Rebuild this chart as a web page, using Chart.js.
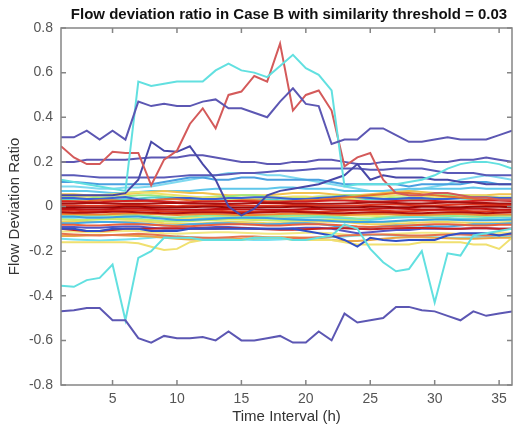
<!DOCTYPE html>
<html>
<head>
<meta charset="utf-8">
<script src="https://cdn.jsdelivr.net/npm/chart.js@4.4.1/dist/chart.umd.min.js"></script>
<style>
  html, body { margin: 0; padding: 0; background: #fff; }
  #wrap { width: 513px; height: 428px; position: relative; }
</style>
</head>
<body>
<div id="wrap"><canvas id="flowChart"></canvas></div>
<script>
const titleText = "Flow deviation ratio in Case B with similarity threshold = 0.03";
const hours = [1,2,3,4,5,6,7,8,9,10,11,12,13,14,15,16,17,18,19,20,21,22,23,24,25,26,27,28,29,30,31,32,33,34,35,36];
const xTicks = [5, 10, 15, 20, 25, 30, 35];
const yTicks = [-0.8, -0.6, -0.4, -0.2, 0, 0.2, 0.4, 0.6, 0.8];
const yTickLabels = ["-0.8", "-0.6", "-0.4", "-0.2", "0", "0.2", "0.4", "0.6", "0.8"];

// the few sensors that stand out
const purpleTop = [0.31,0.31,0.34,0.30,0.34,0.30,0.47,0.45,0.46,0.45,0.45,0.47,0.48,0.44,0.44,0.42,0.40,0.47,0.53,0.46,0.45,0.28,0.30,0.30,0.35,0.35,0.32,0.29,0.29,0.30,0.31,0.30,0.30,0.30,0.32,0.34];
const cyanHigh = [0.12,0.11,0.10,0.09,0.08,0.07,0.56,0.54,0.55,0.56,0.56,0.56,0.61,0.64,0.61,0.60,0.58,0.63,0.68,0.62,0.59,0.52,0.09,0.10,0.10,0.10,0.10,0.11,0.12,0.14,0.17,0.19,0.20,0.20,0.19,0.17];
const redPeak = [0.27,0.22,0.19,0.19,0.245,0.24,0.24,0.095,0.21,0.25,0.37,0.44,0.35,0.50,0.515,0.585,0.56,0.73,0.43,0.50,0.52,0.43,0.18,0.22,0.24,0.12,0.06,0.05,0.05,0.06,0.06,0.05,0.04,0.04,0.03,0.03];
const navySpike = [0.05,0.05,0.05,0.05,0.05,0.06,0.12,0.29,0.25,0.245,0.27,0.19,0.12,0.0,-0.04,-0.01,0.05,0.07,0.08,0.09,0.10,0.12,0.14,0.19,0.12,0.14,0.13,0.13,0.13,0.12,0.12,0.11,0.11,0.10,0.10,0.10];
const purple020 = [0.20,0.20,0.21,0.21,0.21,0.21,0.215,0.22,0.22,0.22,0.23,0.23,0.22,0.21,0.20,0.20,0.19,0.19,0.20,0.20,0.21,0.21,0.20,0.19,0.19,0.20,0.20,0.21,0.21,0.20,0.20,0.21,0.21,0.22,0.21,0.20];
const blue013 = [0.14,0.14,0.135,0.13,0.13,0.13,0.13,0.13,0.13,0.135,0.14,0.14,0.14,0.145,0.15,0.15,0.155,0.16,0.16,0.165,0.17,0.17,0.17,0.17,0.165,0.165,0.17,0.17,0.17,0.16,0.15,0.15,0.15,0.14,0.14,0.14];
const lightBlue011 = [0.11,0.11,0.105,0.10,0.10,0.10,0.10,0.10,0.11,0.12,0.13,0.13,0.12,0.12,0.13,0.13,0.12,0.12,0.12,0.12,0.12,0.11,0.10,0.10,0.10,0.10,0.10,0.09,0.10,0.10,0.10,0.10,0.11,0.11,0.10,0.10];
const cyanLow = [-0.355,-0.36,-0.33,-0.32,-0.26,-0.51,-0.23,-0.20,-0.14,-0.14,-0.14,-0.15,-0.15,-0.15,-0.15,-0.14,-0.14,-0.14,-0.15,-0.15,-0.14,-0.13,-0.08,-0.10,-0.19,-0.25,-0.29,-0.28,-0.20,-0.43,-0.21,-0.22,-0.13,-0.12,-0.11,-0.10];
const purpleLow = [-0.47,-0.465,-0.455,-0.455,-0.51,-0.51,-0.59,-0.61,-0.58,-0.59,-0.59,-0.585,-0.60,-0.56,-0.60,-0.60,-0.59,-0.58,-0.61,-0.61,-0.56,-0.60,-0.48,-0.52,-0.51,-0.50,-0.45,-0.45,-0.465,-0.47,-0.49,-0.51,-0.47,-0.49,-0.48,-0.47];
const yellowDip = [-0.16,-0.16,-0.16,-0.16,-0.16,-0.16,-0.165,-0.18,-0.195,-0.19,-0.16,-0.15,-0.15,-0.15,-0.15,-0.14,-0.14,-0.14,-0.15,-0.15,-0.15,-0.15,-0.16,-0.17,-0.17,-0.17,-0.17,-0.17,-0.16,-0.16,-0.16,-0.16,-0.17,-0.17,-0.19,-0.14];
const blueLow = [-0.10,-0.10,-0.11,-0.11,-0.10,-0.10,-0.10,-0.11,-0.11,-0.11,-0.10,-0.10,-0.10,-0.10,-0.10,-0.10,-0.10,-0.10,-0.10,-0.11,-0.12,-0.13,-0.15,-0.18,-0.14,-0.15,-0.155,-0.15,-0.15,-0.15,-0.13,-0.12,-0.12,-0.12,-0.13,-0.12];

// the dense bundle around zero
const b01 = [0.09,0.09,0.085,0.08,0.08,0.085,0.085,0.09,0.10,0.11,0.12,0.13,0.14,0.15,0.15,0.15,0.14,0.14,0.13,0.12,0.11,0.10,0.09,0.08,0.07,0.07,0.065,0.07,0.08,0.09,0.10,0.12,0.13,0.14,0.13,0.12];
const b02 = [0.07,0.07,0.07,0.065,0.06,0.06,0.065,0.07,0.07,0.07,0.07,0.075,0.08,0.08,0.08,0.08,0.08,0.085,0.085,0.08,0.08,0.08,0.07,0.07,0.07,0.07,0.075,0.08,0.08,0.08,0.08,0.08,0.085,0.08,0.08,0.08];
const b03 = [0.055,0.055,0.05,0.05,0.05,0.055,0.06,0.065,0.07,0.065,0.06,0.06,0.055,0.05,0.05,0.05,0.05,0.055,0.06,0.06,0.06,0.055,0.05,0.05,0.055,0.06,0.065,0.07,0.065,0.06,0.055,0.05,0.05,0.05,0.055,0.055];
const b04 = [0.045,0.045,0.045,0.04,0.04,0.045,0.05,0.05,0.045,0.04,0.04,0.04,0.045,0.045,0.05,0.05,0.045,0.04,0.04,0.04,0.045,0.045,0.05,0.05,0.045,0.045,0.04,0.04,0.045,0.05,0.05,0.05,0.045,0.045,0.04,0.04];
const b05 = [0.038,0.038,0.034,0.034,0.038,0.042,0.032,0.028,0.032,0.038,0.038,0.034,0.034,0.038,0.038,0.042,0.042,0.038,0.034,0.034,0.038,0.042,0.046,0.042,0.038,0.034,0.034,0.038,0.038,0.034,0.034,0.038,0.042,0.042,0.038,0.038];
const b06 = [0.03,0.032,0.032,0.028,0.028,0.032,0.036,0.04,0.04,0.036,0.032,0.032,0.028,0.028,0.032,0.032,0.032,0.028,0.028,0.032,0.032,0.032,0.036,0.036,0.032,0.032,0.028,0.028,0.032,0.032,0.036,0.036,0.032,0.032,0.028,0.028];
const b07 = [0.04,0.04,0.045,0.05,0.055,0.06,0.065,0.06,0.055,0.05,0.045,0.04,0.04,0.035,0.035,0.035,0.04,0.04,0.045,0.045,0.04,0.04,0.035,0.035,0.04,0.045,0.05,0.05,0.045,0.04,0.04,0.04,0.045,0.045,0.04,0.04];
const b08 = [0.026,0.024,0.024,0.028,0.028,0.024,0.024,0.028,0.032,0.032,0.028,0.024,0.024,0.024,0.028,0.028,0.024,0.024,0.024,0.028,0.03,0.035,0.04,0.045,0.05,0.055,0.06,0.06,0.055,0.05,0.045,0.04,0.035,0.03,0.03,0.03];
const b09 = [0.022,0.022,0.019,0.019,0.022,0.025,0.027,0.025,0.022,0.019,0.019,0.022,0.022,0.025,0.025,0.022,0.019,0.019,0.022,0.022,0.025,0.027,0.027,0.025,0.022,0.022,0.025,0.027,0.027,0.025,0.022,0.022,0.025,0.027,0.027,0.025];
const b10 = [0.014,0.014,0.016,0.016,0.014,0.012,0.012,0.014,0.016,0.016,0.014,0.014,0.012,0.012,0.014,0.016,0.016,0.016,0.014,0.014,0.012,0.012,0.014,0.016,0.018,0.018,0.016,0.014,0.014,0.016,0.018,0.018,0.016,0.016,0.014,0.014];
const b11 = [0.006,0.005,0.003,0.003,0.005,0.007,0.007,0.005,0.003,0.001,0.003,0.005,0.007,0.007,0.005,0.003,0.003,0.005,0.007,0.007,0.005,0.003,0.003,0.005,0.007,0.009,0.009,0.007,0.005,0.005,0.007,0.009,0.009,0.007,0.007,0.007];
const b12 = [-0.003,-0.003,-0.005,-0.005,-0.003,-0.001,-0.001,-0.003,-0.005,-0.005,-0.003,-0.001,-0.001,-0.003,-0.005,-0.005,-0.003,-0.003,-0.001,-0.001,-0.003,-0.005,-0.005,-0.003,-0.001,-0.001,-0.003,-0.003,-0.001,-0.001,-0.003,-0.003,-0.001,-0.001,-0.001,-0.003];
const b13 = [-0.011,-0.011,-0.013,-0.013,-0.011,-0.009,-0.009,-0.011,-0.013,-0.015,-0.015,-0.013,-0.011,-0.011,-0.013,-0.013,-0.015,-0.015,-0.013,-0.011,-0.011,-0.013,-0.015,-0.013,-0.011,-0.009,-0.009,-0.011,-0.013,-0.013,-0.011,-0.011,-0.009,-0.011,-0.013,-0.013];
const b14 = [-0.019,-0.019,-0.021,-0.021,-0.019,-0.017,-0.017,-0.019,-0.021,-0.023,-0.021,-0.019,-0.019,-0.021,-0.023,-0.023,-0.021,-0.019,-0.019,-0.021,-0.023,-0.021,-0.019,-0.017,-0.017,-0.019,-0.021,-0.021,-0.019,-0.017,-0.017,-0.019,-0.021,-0.021,-0.019,-0.019];
const b15 = [-0.026,-0.028,-0.028,-0.026,-0.024,-0.024,-0.026,-0.028,-0.03,-0.03,-0.028,-0.026,-0.026,-0.028,-0.03,-0.028,-0.026,-0.024,-0.024,-0.026,-0.028,-0.03,-0.03,-0.028,-0.026,-0.026,-0.028,-0.03,-0.03,-0.028,-0.026,-0.026,-0.028,-0.03,-0.028,-0.026];
const b16 = [-0.034,-0.034,-0.036,-0.036,-0.034,-0.031,-0.031,-0.034,-0.036,-0.038,-0.036,-0.034,-0.034,-0.036,-0.038,-0.038,-0.036,-0.034,-0.032,-0.032,-0.034,-0.036,-0.038,-0.036,-0.034,-0.034,-0.036,-0.038,-0.038,-0.036,-0.034,-0.034,-0.036,-0.038,-0.036,-0.036];
const b17 = [-0.042,-0.042,-0.04,-0.038,-0.04,-0.042,-0.044,-0.047,-0.05,-0.052,-0.052,-0.05,-0.047,-0.044,-0.042,-0.042,-0.044,-0.047,-0.047,-0.044,-0.042,-0.04,-0.038,-0.04,-0.042,-0.044,-0.047,-0.047,-0.044,-0.042,-0.042,-0.044,-0.046,-0.046,-0.044,-0.042];
const b18 = [-0.036,-0.036,-0.039,-0.039,-0.036,-0.034,-0.039,-0.044,-0.049,-0.049,-0.044,-0.042,-0.039,-0.039,-0.042,-0.044,-0.044,-0.042,-0.039,-0.039,-0.042,-0.044,-0.049,-0.054,-0.054,-0.049,-0.044,-0.042,-0.039,-0.039,-0.042,-0.044,-0.044,-0.042,-0.039,-0.039];
const b19 = [-0.05,-0.05,-0.048,-0.048,-0.05,-0.052,-0.055,-0.06,-0.065,-0.065,-0.06,-0.055,-0.052,-0.05,-0.05,-0.052,-0.055,-0.055,-0.052,-0.05,-0.048,-0.05,-0.055,-0.06,-0.06,-0.055,-0.05,-0.048,-0.048,-0.05,-0.052,-0.055,-0.055,-0.052,-0.05,-0.05];
const b20 = [-0.058,-0.06,-0.06,-0.058,-0.056,-0.056,-0.058,-0.062,-0.066,-0.068,-0.066,-0.062,-0.06,-0.058,-0.058,-0.06,-0.062,-0.064,-0.064,-0.062,-0.06,-0.058,-0.06,-0.064,-0.068,-0.07,-0.068,-0.064,-0.06,-0.058,-0.058,-0.06,-0.062,-0.062,-0.06,-0.06];
const b21 = [-0.068,-0.068,-0.07,-0.07,-0.068,-0.066,-0.066,-0.07,-0.075,-0.078,-0.078,-0.075,-0.072,-0.07,-0.07,-0.072,-0.075,-0.075,-0.072,-0.07,-0.068,-0.068,-0.07,-0.075,-0.08,-0.08,-0.078,-0.075,-0.072,-0.07,-0.07,-0.072,-0.074,-0.074,-0.072,-0.07];
const b22 = [-0.075,-0.075,-0.072,-0.07,-0.07,-0.072,-0.075,-0.08,-0.085,-0.085,-0.08,-0.078,-0.075,-0.075,-0.078,-0.08,-0.08,-0.078,-0.075,-0.075,-0.078,-0.085,-0.095,-0.10,-0.095,-0.09,-0.085,-0.085,-0.085,-0.09,-0.09,-0.085,-0.08,-0.08,-0.078,-0.075];
const b23 = [-0.082,-0.082,-0.085,-0.085,-0.082,-0.08,-0.08,-0.082,-0.085,-0.088,-0.088,-0.085,-0.082,-0.08,-0.08,-0.082,-0.085,-0.085,-0.082,-0.08,-0.08,-0.082,-0.085,-0.09,-0.092,-0.09,-0.088,-0.085,-0.082,-0.08,-0.08,-0.082,-0.085,-0.085,-0.082,-0.082];
const b24 = [-0.10,-0.105,-0.11,-0.11,-0.105,-0.10,-0.10,-0.10,-0.098,-0.098,-0.10,-0.10,-0.10,-0.098,-0.098,-0.10,-0.102,-0.104,-0.104,-0.102,-0.10,-0.098,-0.098,-0.10,-0.102,-0.10,-0.098,-0.096,-0.096,-0.098,-0.10,-0.10,-0.098,-0.098,-0.10,-0.10];
const b25 = [-0.092,-0.092,-0.095,-0.095,-0.092,-0.09,-0.09,-0.095,-0.10,-0.10,-0.098,-0.095,-0.092,-0.092,-0.095,-0.098,-0.10,-0.10,-0.098,-0.095,-0.095,-0.10,-0.11,-0.12,-0.115,-0.11,-0.105,-0.105,-0.10,-0.10,-0.10,-0.10,-0.098,-0.098,-0.10,-0.10];
const b26 = [-0.112,-0.112,-0.115,-0.115,-0.112,-0.11,-0.11,-0.115,-0.12,-0.122,-0.12,-0.118,-0.115,-0.115,-0.118,-0.12,-0.122,-0.122,-0.12,-0.118,-0.118,-0.12,-0.125,-0.13,-0.128,-0.125,-0.122,-0.12,-0.118,-0.118,-0.12,-0.122,-0.122,-0.12,-0.118,-0.118];
const b27 = [-0.122,-0.125,-0.128,-0.13,-0.128,-0.125,-0.122,-0.125,-0.13,-0.135,-0.138,-0.14,-0.14,-0.138,-0.135,-0.135,-0.138,-0.14,-0.142,-0.14,-0.138,-0.135,-0.13,-0.128,-0.125,-0.125,-0.128,-0.13,-0.13,-0.128,-0.125,-0.125,-0.128,-0.13,-0.128,-0.125];
const b28 = [-0.132,-0.132,-0.13,-0.128,-0.128,-0.13,-0.132,-0.135,-0.14,-0.145,-0.148,-0.15,-0.15,-0.148,-0.145,-0.142,-0.14,-0.138,-0.138,-0.14,-0.145,-0.15,-0.155,-0.155,-0.15,-0.145,-0.14,-0.138,-0.138,-0.14,-0.142,-0.145,-0.145,-0.142,-0.14,-0.14];
const b29 = [-0.145,-0.148,-0.15,-0.152,-0.15,-0.148,-0.145,-0.14,-0.135,-0.135,-0.138,-0.14,-0.142,-0.145,-0.148,-0.15,-0.15,-0.148,-0.145,-0.142,-0.14,-0.138,-0.135,-0.13,-0.128,-0.128,-0.13,-0.132,-0.135,-0.138,-0.14,-0.14,-0.138,-0.135,-0.135,-0.135];
const b30 = [-0.045,-0.045,-0.05,-0.05,-0.048,-0.045,-0.045,-0.05,-0.055,-0.06,-0.06,-0.058,-0.055,-0.052,-0.05,-0.05,-0.052,-0.055,-0.058,-0.06,-0.062,-0.065,-0.068,-0.07,-0.07,-0.068,-0.065,-0.062,-0.06,-0.058,-0.058,-0.06,-0.062,-0.062,-0.06,-0.058];

// drawing order: first = bottom, last = on top (like plot() hold on)
const lines = [
  { data: b01, color: "#7fd9ef" }, { data: b02, color: "#5fc6ea" },
  { data: b03, color: "#f2c24e" }, { data: b04, color: "#9ee87e" },
  { data: b06, color: "#57d3cb" }, { data: b07, color: "#eee36c" },
  { data: b17, color: "#ece468" }, { data: b18, color: "#8fe895" },
  { data: b19, color: "#61d9e2" }, { data: b20, color: "#c6ea6e" },
  { data: b21, color: "#efd35f" }, { data: b22, color: "#44a9ea" },
  { data: b30, color: "#3ea2e2" }, { data: b26, color: "#f1e782" },
  { data: b29, color: "#74e1f1" }, { data: b28, color: "#eaa645" },
  { data: b27, color: "#e6744f" }, { data: b23, color: "#e8623f" },
  { data: b25, color: "#5557c4" }, { data: b24, color: "#c42222" },
  { data: b05, color: "#3b62d4" }, { data: b08, color: "#e6732e" },
  { data: b16, color: "#f0862f" }, { data: b14, color: "#e03a1e" },
  { data: b09, color: "#d42020" }, { data: b11, color: "#e2341e" },
  { data: b13, color: "#c01414" }, { data: b15, color: "#b01010" },
  { data: b10, color: "#a8100f" }, { data: b12, color: "#980606" },
  { data: yellowDip, color: "#f0e070" }, { data: blueLow, color: "#3050c8" },
  { data: lightBlue011, color: "#4aa0e0" }, { data: blue013, color: "#5a5ab8" },
  { data: purple020, color: "#5c57b3" }, { data: navySpike, color: "#4848a8" },
  { data: cyanLow, color: "#62e0e0" }, { data: purpleLow, color: "#5c57b3" },
  { data: redPeak, color: "#d45a5a" }, { data: cyanHigh, color: "#62e0e0" },
  { data: purpleTop, color: "#5c57b3" },
];

const datasets = lines.map((l) => ({
  data: hours.map((h, i) => ({ x: h, y: l.data[i] })),
  borderColor: l.color,
  borderWidth: 2,
  pointRadius: 0,
  tension: 0,
  fill: false,
})).reverse(); // dataset 0 is painted last

// MATLAB-like box with inward ticks, plus the title
const boxPlugin = {
  id: "matlabBox",
  afterDraw(chart) {
    const { ctx, chartArea: a, scales } = chart;
    const x = scales.x, y = scales.y;
    ctx.save();
    ctx.strokeStyle = "#858585";
    ctx.lineWidth = 1.5;
    ctx.strokeRect(a.left, a.top, a.right - a.left, a.bottom - a.top);
    ctx.beginPath();
    x.ticks.forEach((t) => {
      const px = x.getPixelForValue(t.value);
      ctx.moveTo(px, a.bottom); ctx.lineTo(px, a.bottom - 5);
      ctx.moveTo(px, a.top); ctx.lineTo(px, a.top + 5);
    });
    y.ticks.forEach((t) => {
      const py = y.getPixelForValue(t.value);
      ctx.moveTo(a.left, py); ctx.lineTo(a.left + 5, py);
      ctx.moveTo(a.right, py); ctx.lineTo(a.right - 5, py);
    });
    ctx.stroke();
    ctx.fillStyle = "#111";
    ctx.font = 'bold 15px "Liberation Sans", Arial, sans-serif';
    ctx.textAlign = "center";
    ctx.textBaseline = "middle";
    ctx.fillText(titleText, 289, 15);
    ctx.restore();
  },
};

const tickFont = { family: '"Liberation Sans", Arial, sans-serif', size: 14 };
const labelFont = { family: '"Liberation Sans", Arial, sans-serif', size: 15 };

new Chart(document.getElementById("flowChart").getContext("2d"), {
  type: "line",
  data: { datasets },
  plugins: [boxPlugin],
  options: {
    responsive: true,
    maintainAspectRatio: false,
    animation: false,
    layout: { padding: { top: 28, right: 1, left: 0, bottom: 0 } },
    plugins: { legend: { display: false }, tooltip: { enabled: false }, title: { display: false } },
    scales: {
      x: {
        type: "linear",
        min: 1,
        max: 36,
        grid: { display: false, drawTicks: false },
        border: { display: false },
        afterBuildTicks: (s) => { s.ticks = xTicks.map((v) => ({ value: v })); },
        afterFit: (s) => { s.height = 43; },
        ticks: { autoSkip: false, maxRotation: 0, padding: 6, color: "#555", font: tickFont, callback: (v) => String(v) },
        title: { display: true, text: "Time Interval (h)", color: "#333", font: labelFont, padding: { top: 0, bottom: 2 } },
      },
      y: {
        type: "linear",
        min: -0.8,
        max: 0.8,
        grid: { display: false, drawTicks: false },
        border: { display: false },
        afterBuildTicks: (s) => { s.ticks = yTicks.map((v) => ({ value: v })); },
        afterFit: (s) => { s.width = 61; },
        ticks: { padding: 8, color: "#555", font: tickFont, callback: (v, i) => yTickLabels[i] },
        title: { display: true, text: "Flow Deviation Ratio", color: "#333", font: labelFont, padding: { top: 6, bottom: 0 } },
      },
    },
  },
});
</script>
</body>
</html>
